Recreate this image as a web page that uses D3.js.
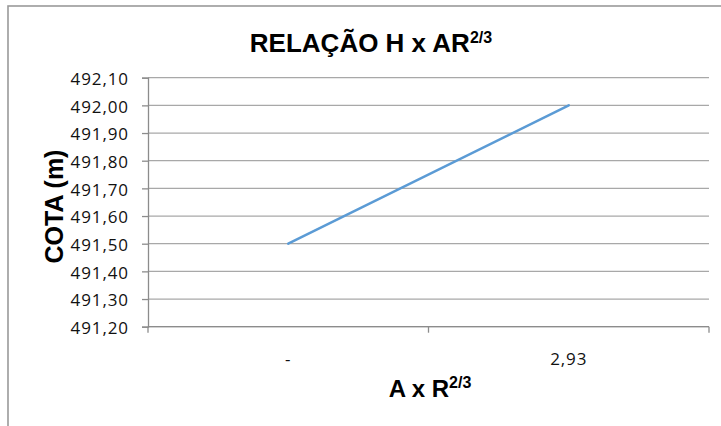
<!DOCTYPE html>
<html>
<head>
<meta charset="utf-8">
<script src="https://cdn.jsdelivr.net/npm/d3@7"></script>
<style>
  html, body { margin: 0; padding: 0; background: #fff; }
  svg { display: block; }
</style>
</head>
<body>
<svg id="chart" width="721" height="426"></svg>
<script>
// Categories on the horizontal axis (A x R^(2/3)) and the elevation series
const categories = ["-", "2,93"];
const cota = [491.50, 492.00];
const yTicks = [491.2, 491.3, 491.4, 491.5, 491.6, 491.7, 491.8, 491.9, 492.0, 492.1];

const svg = d3.select("#chart");
const W = 721, H = 426;
const plot = { left: 148, right: 709, top: 77.7, bottom: 326.7 };

const ptBR = d3.formatLocale({ decimal: ",", thousands: ".", grouping: [3], currency: ["R$", ""] });
const fmt = ptBR.format(".2f");

const y = d3.scaleLinear().domain([491.2, 492.1]).range([plot.bottom, plot.top]);
const x = d3.scaleBand().domain(categories).range([plot.left, plot.right]).padding(0);

// chart frame
svg.append("rect")
  .attr("x", 8).attr("y", 6)
  .attr("width", W).attr("height", H)
  .attr("fill", "#fff")
  .attr("stroke", "#9a9a9a").attr("stroke-width", 1.6);

// horizontal gridlines
svg.append("g")
  .selectAll("line")
  .data(yTicks)
  .join("line")
  .attr("x1", plot.left).attr("x2", plot.right)
  .attr("y1", d => y(d)).attr("y2", d => y(d))
  .attr("stroke", "#a8a8a8").attr("stroke-width", 1.3);

// left axis
const yAxis = svg.append("g")
  .attr("transform", `translate(${plot.left},0)`)
  .call(d3.axisLeft(y).tickValues(yTicks).tickFormat(fmt).tickSize(6).tickPadding(13));
yAxis.select(".domain").attr("stroke", "#8c8c8c").attr("stroke-width", 1.3);
yAxis.selectAll(".tick line").attr("stroke", "#8c8c8c").attr("stroke-width", 1.3);
yAxis.selectAll(".tick text")
  .attr("font-family", "'Open Sans', 'Noto Sans', sans-serif")
  .attr("font-size", 17)
  .attr("letter-spacing", 0.9)
  .attr("fill", "#111")
  .attr("dy", "0.4em");

// bottom axis: tick marks at category boundaries, labels at category centres
const xAxis = svg.append("g");
xAxis.append("line")
  .attr("x1", plot.left).attr("x2", plot.right)
  .attr("y1", plot.bottom).attr("y2", plot.bottom)
  .attr("stroke", "#8c8c8c").attr("stroke-width", 1.3);
const bounds = categories.map(c => x(c)).concat([x(categories[categories.length - 1]) + x.bandwidth()]);
xAxis.selectAll("line.tk")
  .data(bounds)
  .join("line")
  .attr("class", "tk")
  .attr("x1", d => d).attr("x2", d => d)
  .attr("y1", plot.bottom).attr("y2", plot.bottom + 6)
  .attr("stroke", "#8c8c8c").attr("stroke-width", 1.3);
xAxis.selectAll("text")
  .data(categories)
  .join("text")
  .attr("x", d => x(d) + x.bandwidth() / 2)
  .attr("y", 364.5)
  .attr("text-anchor", "middle")
  .attr("font-family", "'Open Sans', 'Noto Sans', sans-serif")
  .attr("font-size", 17)
  .attr("letter-spacing", 0.9)
  .attr("fill", "#111")
  .text(d => d);

// series line
const line = d3.line()
  .x((d, i) => x(categories[i]) + x.bandwidth() / 2)
  .y(d => y(d));
svg.append("path")
  .datum(cota)
  .attr("d", line)
  .attr("fill", "none")
  .attr("stroke", "#5b9bd5")
  .attr("stroke-width", 2.5)
  .attr("stroke-linecap", "round");

// title
const title = svg.append("text")
  .attr("x", 371).attr("y", 52)
  .attr("text-anchor", "middle")
  .attr("font-family", "'Liberation Sans', Arial, sans-serif")
  .attr("font-weight", "bold")
  .attr("fill", "#000");
title.append("tspan").attr("font-size", 26).text("RELAÇÃO H x AR");
title.append("tspan").attr("font-size", 16).attr("dy", -9).text("2/3");

// x axis title
const xTitle = svg.append("text")
  .attr("x", 430).attr("y", 397)
  .attr("text-anchor", "middle")
  .attr("font-family", "'Liberation Sans', Arial, sans-serif")
  .attr("font-weight", "bold")
  .attr("fill", "#000");
xTitle.append("tspan").attr("font-size", 24).text("A x R");
xTitle.append("tspan").attr("font-size", 16).attr("dy", -9).text("2/3");

// y axis title
svg.append("text")
  .attr("transform", "translate(63,206.5) rotate(-90)")
  .attr("text-anchor", "middle")
  .attr("font-family", "'Liberation Sans', Arial, sans-serif")
  .attr("font-weight", "bold")
  .attr("font-size", 25)
  .attr("fill", "#000")
  .text("COTA (m)");
</script>
</body>
</html>
